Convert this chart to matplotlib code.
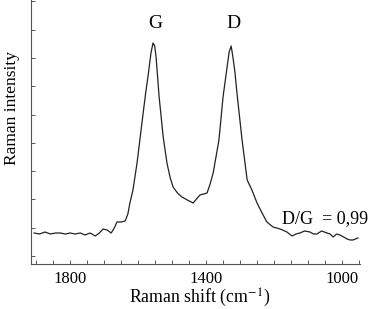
import matplotlib
matplotlib.use('Agg')
import matplotlib.pyplot as plt
import numpy as np

# Espectro Raman (intensidad en unidades arbitrarias)
shift = [1906, 1890, 1874, 1858, 1843, 1829, 1814, 1800, 1785, 1770, 1756, 1741,
         1726, 1714, 1703, 1691, 1679, 1670, 1662, 1650, 1638, 1630, 1624, 1615,
         1603, 1594, 1585, 1578, 1571, 1562, 1556, 1551, 1547, 1538, 1526, 1515,
         1506, 1497, 1484, 1471, 1455, 1438, 1428, 1418, 1407, 1397, 1388, 1379,
         1362, 1350, 1338, 1332, 1326, 1321, 1315, 1309, 1294, 1279, 1265, 1250,
         1232, 1221, 1203, 1182, 1162, 1147, 1135, 1124, 1110, 1094, 1084, 1074,
         1060, 1044, 1035, 1026, 1016, 1006, 995, 985, 976, 968, 953]
intensidad = [31, 30, 32, 30, 31, 31, 30, 31, 30, 31, 29, 31,
              28, 31, 35, 34, 31, 36, 42, 42, 43, 50, 61, 74,
              101, 126, 151, 170, 187, 211, 221, 218, 207, 167, 127, 101,
              87, 77, 71, 67, 64, 61, 65, 69, 70, 71, 80, 91,
              124, 167, 197, 212, 218, 207, 192, 171, 124, 84, 74, 61,
              49, 42, 37, 35, 32, 28, 30, 31, 33, 32, 30, 30,
              33, 31, 30, 27, 30, 29, 27, 25, 24, 24, 26]

etiquetas = ['G', 'D']
pos_etiquetas = [1550, 1318]
relacion = 'D/G  = 0,99'

plt.rcParams['font.family'] = ['Liberation Serif', 'DejaVu Serif']
plt.rcParams['mathtext.fontset'] = 'stix'

fig = plt.figure(figsize=(3.78, 3.09), dpi=100)
ax = fig.add_axes([31/378, 45/309, 329/378, 264/309])

ax.plot(shift, intensidad, color='#222222', lw=0.9)

ax.set_xlim(1915, 947)
ax.set_ylim(0, 264)

# Ejes: solo izquierda y abajo, ticks hacia dentro
for lado in ['top', 'right']:
    ax.spines[lado].set_visible(False)
for lado in ['left', 'bottom']:
    ax.spines[lado].set_color('#555555')
    ax.spines[lado].set_linewidth(0.8)

ax.set_xticks([1800, 1400, 1000])
ax.set_xticks(np.arange(950, 1901, 50), minor=True)
ax.set_yticks(np.arange(8, 264, 28.3))
ax.set_yticklabels([])
ax.tick_params(axis='x', which='both', direction='in', length=3, width=0.7,
               color='#555555', labelsize=12, pad=5)
ax.tick_params(axis='y', direction='in', length=3, width=0.7, color='#555555')

for et, xp in zip(etiquetas, pos_etiquetas):
    ax.text(xp, 241, et, ha='center', va='center', fontsize=14)
ax.text(1176, 45, relacion, ha='left', va='center', fontsize=13, clip_on=False)

fig.text(200/378, 1 - 298/309, 'Raman shift (cm$^{-1}$)', ha='center', va='center', fontsize=12.8)
fig.text(12/378, 1 - 108/309, 'Raman intensity', ha='center', va='center',
         rotation=90, fontsize=12.5)

fig.savefig('out.png', dpi=100)
